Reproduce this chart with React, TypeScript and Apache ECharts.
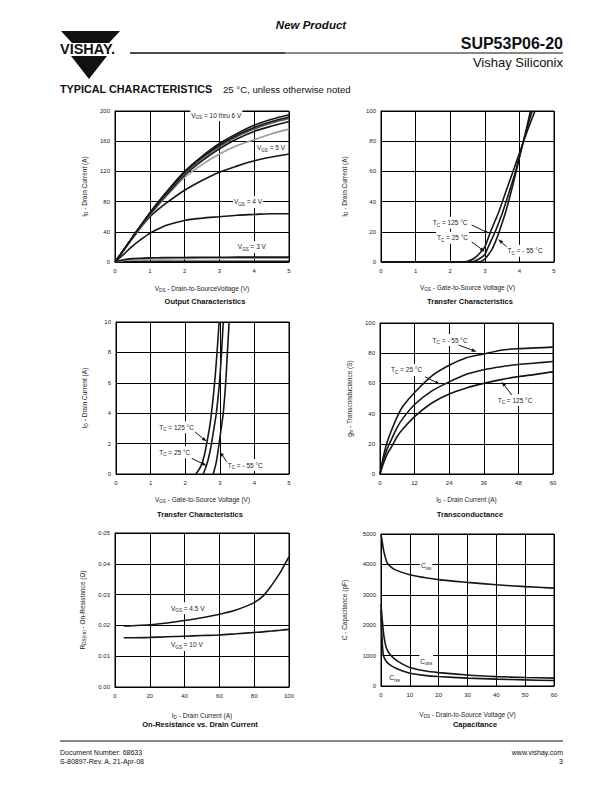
import React, { useEffect, useRef } from 'react';
import * as echarts from 'echarts';

const FONT = '"Liberation Sans", Arial, Helvetica, sans-serif';

// ---------- Output characteristics (I_D vs V_DS) ----------
const vdsOut = [0, 0.25, 0.5, 0.75, 1, 1.25, 1.5, 2, 2.5, 3, 3.5, 4, 4.5, 5];
const idVgs10 = [0, 16, 33, 49, 65, 80, 94, 120, 140, 157, 170, 181, 189, 195];
const idVgs8 = [0, 16, 33, 49, 65, 79, 93, 119, 139, 155, 168, 178, 186, 192];
const idVgs7 = [0, 16, 32, 48, 64, 78, 92, 117, 137, 153, 166, 176, 184, 190];
const idVgs6 = [0, 16, 32, 48, 63, 77, 90, 115, 134, 150, 163, 173, 180, 186];
const idVgs6g = [0, 16, 31, 47, 62, 75, 88, 112, 129, 143, 154, 162, 170, 176];
const idVgs5 = [0, 16, 31, 46, 60, 70, 79, 95, 108, 119, 127, 134, 139, 143];
const idVgs4 = [0, 10, 21, 30, 38, 44, 49, 55, 58, 60, 62, 63, 64, 64];
const idVgs3 = [0, 3, 4.5, 5, 5.5, 5.7, 6, 6, 6.2, 6.3, 6.4, 6.5, 6.5, 6.5];
const idVgs3g = [0, 2, 3, 3.5, 4, 4, 4.2, 4.5, 4.7, 4.8, 5, 5, 5, 5];
const idVgs2 = [0, 0.5, 0.8, 1, 1, 1, 1, 1, 1, 1, 1, 1, 1, 1];

// ---------- Transfer characteristics (0-100 A) ----------
const vgsT125 = [0, 2.3, 2.5, 2.7, 2.9, 3.0, 3.1, 3.2, 3.4, 3.6, 3.8, 4.0, 4.2, 4.45];
const idT125 = [0, 0, 0.5, 2.5, 7, 10, 16, 22, 33, 46, 59, 72, 85, 100];
const vgsT25 = [0, 2.5, 2.7, 2.9, 3.0, 3.1, 3.2, 3.3, 3.5, 3.7, 3.9, 4.0, 4.2, 4.37];
const idT25 = [0, 0, 0.5, 3, 5, 10, 15, 20, 32, 46, 61, 70, 87, 100];
const vgsTm55 = [0, 2.8, 2.9, 3.0, 3.2, 3.3, 3.4, 3.6, 3.8, 4.0, 4.2, 4.32];
const idTm55 = [0, 0, 0.5, 2, 8, 13, 19, 33, 50, 69, 88, 100];

// ---------- Transfer characteristics (0-10 A) ----------
const vgsZ125 = [2.31, 2.45, 2.55, 2.62, 2.7, 2.76, 2.85, 2.92, 2.98];
const idZ125 = [0, 0.5, 1.2, 2, 3, 4, 6, 8, 10];
const vgsZ25 = [2.52, 2.62, 2.7, 2.76, 2.83, 2.9, 2.99, 3.05, 3.1];
const idZ25 = [0, 0.6, 1.3, 2, 3, 4, 6, 8, 10];
const vgsZm55 = [2.81, 2.9, 2.98, 3.04, 3.1, 3.17, 3.22, 3.27];
const idZm55 = [0, 0.8, 2, 3, 4, 6, 8, 10];

// ---------- Transconductance ----------
const idGfs = [0, 1, 2, 3, 4, 6, 8, 12, 18, 24, 30, 36, 42, 48, 54, 60];
const gfsM55 = [0, 10, 18, 24, 29, 38, 45, 54, 65, 72, 77, 79.5, 82, 83, 83.5, 84];
const gfs25 = [0, 8, 14, 19, 23, 31, 37, 46, 55, 61, 66, 69, 71, 72.5, 73.5, 74.5];
const gfs125 = [0, 6, 11, 15, 18, 25, 30, 38, 47, 53, 57, 60, 62.5, 64.5, 66, 67.8];

// ---------- On-resistance ----------
const idRds = [5, 10, 20, 30, 40, 50, 60, 70, 80, 85, 90, 95, 100];
const rdsVgs45 = [0.0198, 0.0199, 0.0202, 0.0208, 0.0216, 0.0225, 0.0236, 0.0251, 0.0274, 0.0295, 0.033, 0.0372, 0.0423];
const rdsVgs10 = [0.016, 0.016, 0.0161, 0.0163, 0.0165, 0.0167, 0.0169, 0.0173, 0.0177, 0.0179, 0.0182, 0.0184, 0.0187];

// ---------- Capacitance ----------
const vdsCiss = [0, 0.5, 1, 2, 3, 5, 10, 15, 20, 30, 40, 50, 60];
const ciss = [5000, 4700, 4420, 4080, 3950, 3820, 3660, 3570, 3500, 3410, 3330, 3270, 3220];
const vdsCoss = [0, 0.5, 1, 1.5, 2, 3, 5, 7.5, 10, 15, 20, 30, 40, 50, 60];
const coss = [2700, 2100, 1650, 1380, 1220, 1050, 870, 720, 610, 500, 440, 360, 310, 280, 260];
const vdsCrss = [0, 0.3, 0.6, 1, 2, 3, 5, 7.5, 10, 15, 20, 30, 40, 50, 60];
const crss = [2500, 1700, 1200, 950, 790, 700, 590, 490, 420, 350, 310, 260, 225, 200, 180];

const GRIDS = [
  { left: 115, top: 111, width: 174, height: 151 },
  { left: 381, top: 111, width: 173, height: 151 },
  { left: 116, top: 322, width: 173, height: 152 },
  { left: 380, top: 323, width: 173, height: 151 },
  { left: 115, top: 533, width: 174, height: 154 },
  { left: 381, top: 534, width: 173, height: 152 },
];

const TITLES = [
  { text: 'Output Characteristics', x: 205, y: 301 },
  { text: 'Transfer Characteristics', x: 470, y: 301 },
  { text: 'Transfer Characteristics', x: 200, y: 514 },
  { text: 'Transconductance', x: 470, y: 514 },
  { text: 'On-Resistance vs. Drain Current', x: 200, y: 724 },
  { text: 'Capacitance', x: 475, y: 724 },
];

const RICH = {
  n: { fontFamily: FONT, fontSize: 6.5, color: '#222', lineHeight: 10 },
  s: { fontFamily: FONT, fontSize: 4.6, color: '#222', lineHeight: 4, verticalAlign: 'bottom' },
};

const pairs = (xs: number[], ys: number[]) => xs.map((x, i) => [x, ys[i]]);

function xAxis(gi: number, min: number, max: number, interval: number, name: string, gap: number) {
  return {
    type: 'value', gridIndex: gi, min, max, interval,
    name, nameLocation: 'middle', nameGap: gap,
    nameTextStyle: { fontFamily: FONT, fontSize: 6.5, color: '#222', rich: RICH },
    axisLine: { show: true, lineStyle: { color: '#000', width: 1 } },
    axisTick: { show: false },
    axisLabel: { fontFamily: FONT, fontSize: 6, color: '#222', margin: 6, formatter: (v: number) => String(v) },
    splitLine: { show: true, lineStyle: { color: '#000', width: 1 } },
  };
}
function yAxis(gi: number, min: number, max: number, interval: number, name: string, gap: number, fmt?: (v: number) => string) {
  return {
    type: 'value', gridIndex: gi, min, max, interval,
    name, nameLocation: 'middle', nameGap: gap,
    nameTextStyle: { fontFamily: FONT, fontSize: 6.5, color: '#222', rich: RICH },
    axisLine: { show: true, lineStyle: { color: '#000', width: 1 } },
    axisTick: { show: false },
    axisLabel: { fontFamily: FONT, fontSize: 6, color: '#222', margin: 5, formatter: fmt || ((v: number) => String(v)) },
    splitLine: { show: true, lineStyle: { color: '#000', width: 1 } },
  };
}
function line(gi: number, data: number[][], color = '#161616', width = 1.6) {
  return {
    type: 'line', xAxisIndex: gi, yAxisIndex: gi, data, showSymbol: false, symbol: 'none',
    smooth: 0.3, silent: true, lineStyle: { color, width },
  };
}

const NOTES = [
  { g: 0, at: [2.16, 194.7], t: '{n|V}{s|GS}{n| = 10 thru 6 V}' },
  { g: 0, at: [4.05, 151], t: '{n|V}{s|GS}{n| = 5 V}' },
  { g: 0, at: [3.39, 79.5], t: '{n|V}{s|GS}{n| = 4 V}' },
  { g: 0, at: [3.5, 19.9], t: '{n|V}{s|GS}{n| = 3 V}' },
  { g: 1, at: [1.47, 26], t: '{n|T}{s|C}{n| = 125 °C}' },
  { g: 1, at: [1.59, 16.1], t: '{n|T}{s|C}{n| = 25 °C}' },
  { g: 1, at: [3.63, 7.5], t: '{n|T}{s|C}{n| = - 55 °C}' },
  { g: 2, at: [1.22, 3.07], t: '{n|T}{s|C}{n| = 125 °C}' },
  { g: 2, at: [1.22, 1.43], t: '{n|T}{s|C}{n| = 25 °C}' },
  { g: 2, at: [3.2, 0.59], t: '{n|T}{s|C}{n| = - 55 °C}' },
  { g: 3, at: [17.9, 88.7], t: '{n|T}{s|C}{n| = - 55 °C}' },
  { g: 3, at: [3.5, 68.9], t: '{n|T}{s|C}{n| = 25 °C}' },
  { g: 3, at: [40.5, 49], t: '{n|T}{s|C}{n| = 125 °C}' },
  { g: 4, at: [31.6, 0.02555], t: '{n|V}{s|GS}{n| = 4.5 V}' },
  { g: 4, at: [31.6, 0.01364], t: '{n|V}{s|GS}{n| = 10 V}' },
  { g: 5, at: [13.5, 3957], t: '{n|C}{s|iss}' },
  { g: 5, at: [13.3, 822], t: '{n|C}{s|oss}' },
  { g: 5, at: [2.5, 273], t: '{n|C}{s|rss}' },
];

const ARROWS = [
  { g: 1, from: [2.62, 24.5], to: [3.12, 19] },
  { g: 1, from: [2.62, 13.4], to: [3.0, 6.8] },
  { g: 1, from: [3.63, 10.1], to: [3.39, 15] },
  { g: 2, from: [2.28, 2.78], to: [2.62, 2.13] },
  { g: 2, from: [2.19, 1.03], to: [2.62, 0.55] },
  { g: 2, from: [3.2, 0.81], to: [3.0, 1.47] },
  { g: 3, from: [27.2, 85.4], to: [33.5, 81] },
  { g: 3, from: [15.6, 64.4], to: [20.8, 59.4] },
  { g: 3, from: [45.7, 52.3], to: [42.2, 61.1] },
];

function staticGraphics() {
  const g: any[] = [];
  // logo
  g.push({ type: 'polygon', shape: { points: [[61, 31], [120, 31], [109, 43], [72, 43]] }, style: { fill: '#111' } });
  g.push({ type: 'text', x: 60, y: 49, style: { text: 'VISHAY.', fontFamily: FONT, fontSize: 14.5, fontWeight: 900, fill: '#111', verticalAlign: 'middle' } });
  g.push({ type: 'polygon', shape: { points: [[71, 56], [107, 56], [89, 79]] }, style: { fill: '#111' } });
  // header
  g.push({ type: 'line', shape: { x1: 130, y1: 53, x2: 285, y2: 53 }, style: { stroke: '#111', lineWidth: 1.6 } });
  g.push({ type: 'line', shape: { x1: 285, y1: 53, x2: 563, y2: 53 }, style: { stroke: '#111', lineWidth: 1 } });
  g.push({ type: 'text', x: 311, y: 25, style: { text: 'New Product', fontFamily: FONT, fontSize: 11.5, fontWeight: 'bold', fontStyle: 'italic', fill: '#111', align: 'center', verticalAlign: 'middle' } });
  g.push({ type: 'text', x: 563, y: 43, style: { text: 'SUP53P06-20', fontFamily: FONT, fontSize: 16, fontWeight: 'bold', fill: '#111', align: 'right', verticalAlign: 'middle' } });
  g.push({ type: 'text', x: 563, y: 62, style: { text: 'Vishay Siliconix', fontFamily: FONT, fontSize: 13, fill: '#111', align: 'right', verticalAlign: 'middle' } });
  g.push({ type: 'text', x: 60, y: 89, style: { text: 'TYPICAL CHARACTERISTICS', fontFamily: FONT, fontSize: 10.8, fontWeight: 900, fill: '#111', verticalAlign: 'middle' } });
  g.push({ type: 'text', x: 223, y: 89, style: { text: '25 °C, unless otherwise noted', fontFamily: FONT, fontSize: 9.6, fill: '#111', verticalAlign: 'middle' } });
  // footer
  g.push({ type: 'line', shape: { x1: 60, y1: 741, x2: 563, y2: 741 }, style: { stroke: '#111', lineWidth: 1 } });
  const ft = { fontFamily: FONT, fontSize: 7, fill: '#111', verticalAlign: 'middle' };
  g.push({ type: 'text', x: 60, y: 752, style: { ...ft, text: 'Document Number: 68633' } });
  g.push({ type: 'text', x: 60, y: 761, style: { ...ft, text: 'S-80897-Rev. A, 21-Apr-08' } });
  g.push({ type: 'text', x: 563, y: 752, style: { ...ft, text: 'www.vishay.com', align: 'right' } });
  g.push({ type: 'text', x: 563, y: 761, style: { ...ft, text: '3', align: 'right' } });
  // titles
  TITLES.forEach((t) => g.push({ type: 'text', x: t.x, y: t.y, style: { text: t.text, fontFamily: FONT, fontSize: 7.5, fontWeight: 'bold', fill: '#111', align: 'center', verticalAlign: 'middle' } }));
  return g;
}

export default function App() {
  const ref = useRef<HTMLDivElement>(null);
  useEffect(() => {
    if (!ref.current) return;
    const chart = echarts.init(ref.current, null, { renderer: 'svg' });
    const option: any = {
      animation: false,
      backgroundColor: '#fff',
      grid: GRIDS.map((g) => ({ ...g, show: true, borderColor: '#000', borderWidth: 1, containLabel: false })),
      xAxis: [
        xAxis(0, 0, 5, 1, '{n|V}{s|DS}{n| - Drain-to-SourceVoltage (V)}', 21),
        xAxis(1, 0, 5, 1, '{n|V}{s|GS}{n| - Gate-to-Source Voltage (V)}', 20),
        xAxis(2, 0, 5, 1, '{n|V}{s|GS}{n| - Gate-to-Source Voltage (V)}', 20),
        xAxis(3, 0, 60, 12, '{n|I}{s|D}{n| - Drain Current (A)}', 20),
        xAxis(4, 0, 100, 20, '{n|I}{s|D}{n| - Drain Current (A)}', 23),
        xAxis(5, 0, 60, 10, '{n|V}{s|DS}{n| - Drain-to-Source Voltage (V)}', 23),
      ],
      yAxis: [
        yAxis(0, 0, 200, 40, '{n|I}{s|D}{n| - Drain Current (A)}', 26),
        yAxis(1, 0, 100, 20, '{n|I}{s|D}{n| - Drain Current (A)}', 32),
        yAxis(2, 0, 10, 2, '{n|I}{s|D}{n| - Drain Current (A)}', 27),
        yAxis(3, 0, 100, 20, '{n|g}{s|fs}{n| - Transconductance (S)}', 26),
        yAxis(4, 0, 0.05, 0.01, '{n|R}{s|DS(on)}{n| - On-Resistance (Ω)}', 28, (v: number) => v.toFixed(2)),
        yAxis(5, 0, 5000, 1000, '{n|C - Capacitance (pF)}', 32),
      ],
      series: [
        line(0, pairs(vdsOut, idVgs2)),
        line(0, pairs(vdsOut, idVgs3g), '#9a9a9a'),
        line(0, pairs(vdsOut, idVgs3)),
        line(0, pairs(vdsOut, idVgs4)),
        line(0, pairs(vdsOut, idVgs5)),
        line(0, pairs(vdsOut, idVgs6g), '#9a9a9a'),
        line(0, pairs(vdsOut, idVgs6)),
        line(0, pairs(vdsOut, idVgs7), '#555'),
        line(0, pairs(vdsOut, idVgs8)),
        line(0, pairs(vdsOut, idVgs10)),
        line(1, pairs(vgsT125, idT125)),
        line(1, pairs(vgsT25, idT25)),
        line(1, pairs(vgsTm55, idTm55)),
        line(2, pairs(vgsZ125, idZ125)),
        line(2, pairs(vgsZ25, idZ25)),
        line(2, pairs(vgsZm55, idZm55)),
        line(3, pairs(idGfs, gfsM55)),
        line(3, pairs(idGfs, gfs25)),
        line(3, pairs(idGfs, gfs125)),
        line(4, pairs(idRds, rdsVgs45)),
        line(4, pairs(idRds, rdsVgs10)),
        line(5, pairs(vdsCiss, ciss)),
        line(5, pairs(vdsCoss, coss)),
        line(5, pairs(vdsCrss, crss)),
      ],
    };
    chart.setOption(option);

    const g = staticGraphics();
    NOTES.forEach((n) => {
      const p = chart.convertToPixel({ gridIndex: n.g } as any, n.at) as number[];
      g.push({
        type: 'text', x: p[0], y: p[1], z: 10,
        style: {
          text: n.t, rich: RICH, fontFamily: FONT, fontSize: 6.5, fill: '#222',
          backgroundColor: '#fff', padding: [1, 1], align: 'left', verticalAlign: 'middle',
        },
      });
    });
    ARROWS.forEach((a) => {
      const p1 = chart.convertToPixel({ gridIndex: a.g } as any, a.from) as number[];
      const p2 = chart.convertToPixel({ gridIndex: a.g } as any, a.to) as number[];
      const dx = p2[0] - p1[0];
      const dy = p2[1] - p1[1];
      const len = Math.sqrt(dx * dx + dy * dy) || 1;
      const ux = dx / len, uy = dy / len;
      const hl = 5, hw = 1.8;
      const bx = p2[0] - ux * hl, by = p2[1] - uy * hl;
      g.push({ type: 'line', z: 10, shape: { x1: p1[0], y1: p1[1], x2: bx, y2: by }, style: { stroke: '#111', lineWidth: 1 } });
      g.push({
        type: 'polygon', z: 10,
        shape: { points: [[p2[0], p2[1]], [bx - uy * hw, by + ux * hw], [bx + uy * hw, by - ux * hw]] },
        style: { fill: '#111' },
      });
    });
    chart.setOption({ graphic: g });
    return () => chart.dispose();
  }, []);
  return <div ref={ref} style={{ position: 'absolute', left: 0, top: 0, width: 612, height: 792 }} />;
}
